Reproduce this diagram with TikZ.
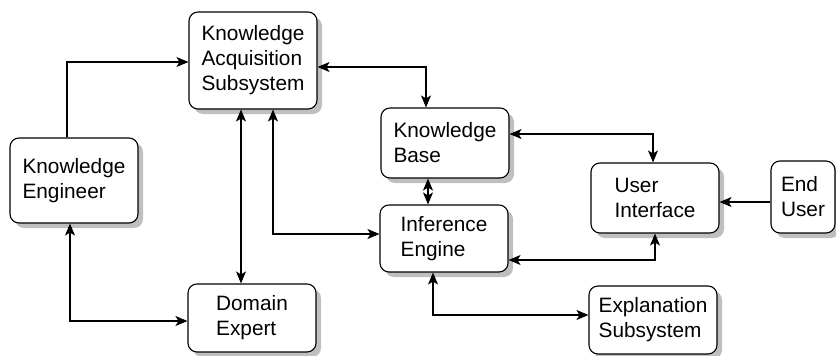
\documentclass[tikz,border=0pt]{standalone}
\usepackage{fontspec}
\setmainfont{Liberation Sans}
\usetikzlibrary{shadows,arrows.meta}

\begin{document}
\begin{tikzpicture}[x=1pt, y=-1pt, line width=1.1pt,
    >={Stealth[length=12pt,width=10pt,inset=3pt]},
    block/.style={draw, rounded corners=9pt, fill=white, align=left, inner sep=0pt,
        font=\fontsize{20.8}{25}\selectfont,
        drop shadow={shadow xshift=5pt, shadow yshift=-5pt, fill=black!25, opacity=1},
        minimum width=128pt, minimum height=68pt}]
\useasboundingbox (0,0) rectangle (836,356);

% the subsystems
\node[block, minimum height=97pt] (kas) at (253,60.5) {Knowledge\\Acquisition\\Subsystem};
\node[block, minimum height=70pt] (kb) at (445,143) {Knowledge\\Base};
\node[block, minimum height=67pt] (ie) at (444,238.5) {Inference\\Engine};
\node[block, minimum height=70pt] (ui) at (655,198) {User\\Interface};
\node[block, minimum width=64pt, minimum height=72pt] (eu) at (803,197) {End\\User};
\node[block, minimum height=85pt] (ke) at (74,180.5) {Knowledge\\Engineer};
\node[block] (de) at (252,318) {Domain\\Expert};
\node[block] (es) at (653,320) {Explanation\\Subsystem};

% flows between them
\draw[->] ([xshift=-7pt]ke.north) |- ([yshift=-1.5pt]kas.west);
\draw[<->] ([yshift=-6.5pt]kas.east) -| ([xshift=-19pt]kb.north);
\draw[<->] ([xshift=-12pt]kas.south) -- ([xshift=-12pt]kas.south |- de.north);
\draw[<->] ([xshift=20pt]kas.south) |- ([yshift=4.5pt]ie.west);
\draw[<->] ([xshift=-17pt]kb.south) -- ([xshift=-17pt]kb.south |- ie.north);
\draw[<->] ([yshift=9pt]kb.east) -| ([xshift=-2pt]ui.north);
\draw[<->] ([yshift=-21.5pt]ie.east) -| (ui.south);
\draw[->] ([yshift=-5pt]eu.west) -- ([yshift=-5pt]eu.west -| ui.east);
\draw[<->] ([xshift=-4pt]ke.south) |- ([yshift=-3pt]de.west);
\draw[<->] ([xshift=-11pt]ie.south) |- ([yshift=5pt]es.west);
\end{tikzpicture}
\end{document}
